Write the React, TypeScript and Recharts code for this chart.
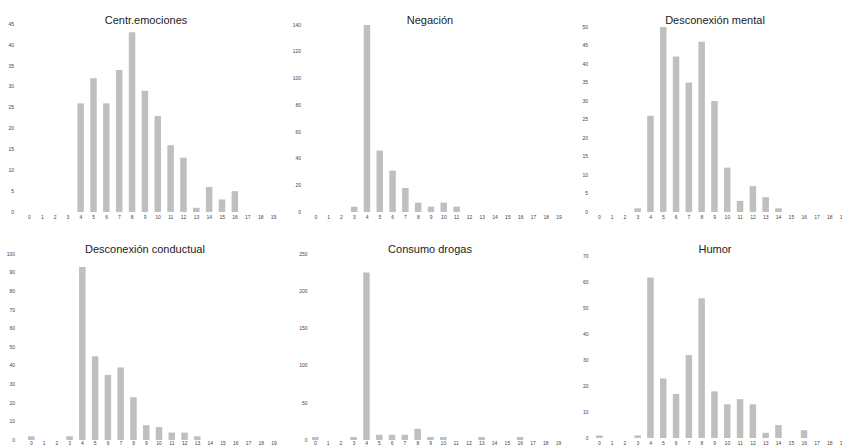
import { Bar, BarChart, XAxis, YAxis } from 'recharts'

// score categories 0..19
const categories = ['0', '1', '2', '3', '4', '5', '6', '7', '8', '9', '10', '11', '12', '13', '14', '15', '16', '17', '18', '19']

const centrEmociones = [0, 0, 0, 0, 26, 32, 26, 34, 43, 29, 23, 16, 13, 1, 6, 3, 5, 0, 0, 0]
const negacion = [0, 0, 0, 4, 140, 46, 31, 18, 7, 4, 7, 4, 0, 0, 0, 0, 0, 0, 0, 0]
const desconexionMental = [0, 0, 0, 1, 26, 50, 42, 35, 46, 30, 12, 3, 7, 4, 1, 0, 0, 0, 0, 0]
const desconexionConductual = [2, 0, 0, 2, 93, 45, 35, 39, 23, 8, 7, 4, 4, 2, 0, 0, 0, 0, 0, 0]
const consumoDrogas = [4, 0, 0, 4, 225, 7, 7, 7, 15, 4, 4, 0, 0, 4, 0, 0, 4, 0, 0, 0]
const humor = [1, 0, 0, 1, 62, 23, 17, 32, 54, 18, 13, 15, 13, 2, 5, 0, 3, 0, 0, 0]

const titles = ['Centr.emociones', 'Negación', 'Desconexión mental', 'Desconexión conductual', 'Consumo drogas', 'Humor']

const ticks1 = [0, 5, 10, 15, 20, 25, 30, 35, 40, 45]
const ticks2 = [0, 20, 40, 60, 80, 100, 120, 140]
const ticks3 = [0, 5, 10, 15, 20, 25, 30, 35, 40, 45, 50]
const ticks4 = [0, 10, 20, 30, 40, 50, 60, 70, 80, 90, 100]
const ticks5 = [0, 50, 100, 150, 200, 250]
const ticks6 = [0, 10, 20, 30, 40, 50, 60, 70]

const series = [centrEmociones, negacion, desconexionMental, desconexionConductual, consumoDrogas, humor]
const yTicks = [ticks1, ticks2, ticks3, ticks4, ticks5, ticks6]

// placement of each little chart on the page
const layout = [
  { left: 0, top: 0, width: 280, height: 223, mTop: 24, yw: 23, yGap: 9, xGap: 3, titleX: 146, titleY: 20 },
  { left: 281, top: 0, width: 284.5, height: 223, mTop: 25, yw: 28.5, yGap: 8.5, xGap: 3, titleX: 430, titleY: 20 },
  { left: 561, top: 0, width: 288, height: 223, mTop: 27, yw: 32, yGap: 5, xGap: 3, titleX: 715, titleY: 20 },
  { left: 0, top: 223, width: 280.5, height: 228, mTop: 31, yw: 25, yGap: 10, xGap: 1.5, titleX: 145, titleY: 249 },
  { left: 281, top: 223, width: 284, height: 228, mTop: 31, yw: 28, yGap: 1.5, xGap: 1.5, titleX: 430, titleY: 249 },
  { left: 561, top: 223, width: 288, height: 226, mTop: 33.7, yw: 32, yGap: 4.5, xGap: 3, titleX: 715, titleY: 249 },
]

const FONT = '"Liberation Sans", Arial, sans-serif'
const tickStyle = { fontSize: 5, fill: '#444', fontFamily: FONT }

function Panel({ idx }: { idx: number }) {
  const l = layout[idx]
  const values = series[idx]
  const ticks = yTicks[idx]
  const data = categories.map((c, i) => ({ cat: c, value: values[i] }))

  return (
    <>
      <div style={{ position: 'absolute', left: l.left, top: l.top }}>
        <BarChart
          width={l.width}
          height={l.height}
          data={data}
          margin={{ top: l.mTop, right: 0, bottom: 0, left: 0 }}
          barCategoryGap={0}
        >
          <XAxis
            dataKey="cat"
            interval={0}
            axisLine={false}
            tickLine={false}
            tickSize={0}
            tickMargin={l.xGap}
            height={11}
            tick={tickStyle}
          />
          <YAxis
            domain={[0, ticks[ticks.length - 1]]}
            ticks={ticks}
            interval={0}
            axisLine={false}
            tickLine={false}
            tickSize={0}
            tickMargin={l.yGap}
            width={l.yw}
            tick={tickStyle}
          />
          <Bar dataKey="value" fill="#bfbfbf" barSize={6.5} isAnimationActive={false} />
        </BarChart>
      </div>
      <div
        style={{
          position: 'absolute',
          left: l.titleX - 100,
          width: 200,
          top: l.titleY - 7,
          textAlign: 'center',
          fontFamily: FONT,
          fontSize: 11,
          lineHeight: '14px',
          color: '#222',
        }}
      >
        {titles[idx]}
      </div>
    </>
  )
}

export default function App() {
  return (
    <div
      style={{
        position: 'absolute',
        left: 0,
        top: 0,
        width: 842,
        height: 446,
        overflow: 'hidden',
        background: '#fff',
      }}
    >
      {series.map((_, i) => (
        <Panel key={i} idx={i} />
      ))}
    </div>
  )
}
